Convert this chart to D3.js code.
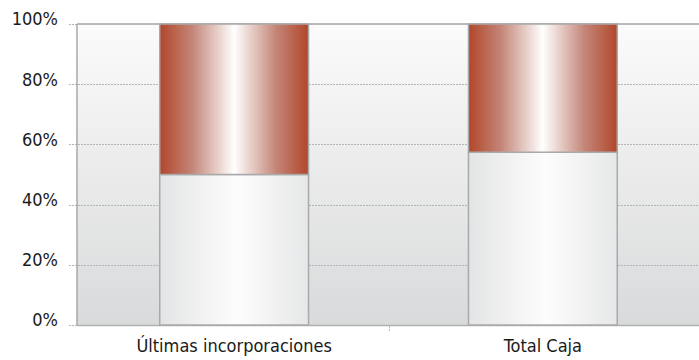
<!DOCTYPE html>
<html>
<head>
<meta charset="utf-8">
<script src="https://cdn.jsdelivr.net/npm/d3@7/dist/d3.min.js"></script>
<style>
  html, body { margin: 0; padding: 0; background: #ffffff; }
  svg { display: block; }
  text { font-family: "Liberation Sans Narrow", "DejaVu Sans Condensed", "Roboto Condensed", sans-serif; fill: #1a1a1a; }
</style>
</head>
<body>
<svg id="chart" width="699" height="360"></svg>
<script>
// Share of each group (percent): base segment and remaining segment
const categories = ["Últimas incorporaciones", "Total Caja"];
const baseShare = [50, 57.4];
const restShare = [50, 42.6];
const yTicks = [0, 20, 40, 60, 80, 100];
const yTickLabels = ["0%", "20%", "40%", "60%", "80%", "100%"];

const W = 699, H = 360;
const margin = { top: 24, right: 0, bottom: 35, left: 77 };

const svg = d3.select("#chart");
const defs = svg.append("defs");

// Plot background: light at top fading to grey at the bottom
const bg = defs.append("linearGradient").attr("id", "bgGrad")
  .attr("x1", 0).attr("y1", 0).attr("x2", 0).attr("y2", 1);
bg.append("stop").attr("offset", "0%").attr("stop-color", "#fbfbfb");
bg.append("stop").attr("offset", "100%").attr("stop-color", "#d9dadb");

// Silver bar: horizontal sheen, bright in the middle
const silver = defs.append("linearGradient").attr("id", "silverGrad")
  .attr("x1", 0).attr("y1", 0).attr("x2", 1).attr("y2", 0);
silver.append("stop").attr("offset", "0%").attr("stop-color", "#e3e4e5");
silver.append("stop").attr("offset", "52%").attr("stop-color", "#fdfdfd");
silver.append("stop").attr("offset", "100%").attr("stop-color", "#e6e7e8");

// Copper bar: rust at the edges, white highlight in the middle
const copper = defs.append("linearGradient").attr("id", "copperGrad")
  .attr("x1", 0).attr("y1", 0).attr("x2", 1).attr("y2", 0);
copper.append("stop").attr("offset", "0%").attr("stop-color", "#b1462a");
copper.append("stop").attr("offset", "22%").attr("stop-color", "#c48678");
copper.append("stop").attr("offset", "50%").attr("stop-color", "#ffffff");
copper.append("stop").attr("offset", "78%").attr("stop-color", "#c48678");
copper.append("stop").attr("offset", "100%").attr("stop-color", "#b1462a");

const x = d3.scaleBand()
  .domain(categories)
  .range([margin.left, 700])
  .paddingInner(0.518)
  .paddingOuter(0.268);

const y = d3.scaleLinear()
  .domain([0, 100])
  .range([H - margin.bottom, margin.top]);

// Background panel
svg.append("rect")
  .attr("x", margin.left).attr("y", y(100))
  .attr("width", W - margin.right - margin.left)
  .attr("height", y(0) - y(100))
  .attr("fill", "url(#bgGrad)");

// Gridlines (dotted), extending slightly left of the plot as ticks
const grid = svg.append("g");
grid.selectAll("line").data(yTicks.filter(d => d > 0 && d < 100)).join("line")
  .attr("x1", margin.left - 8).attr("x2", W - margin.right)
  .attr("y1", d => Math.round(y(d)) + 0.5).attr("y2", d => Math.round(y(d)) + 0.5)
  .attr("stroke", "#b4b4b4").attr("stroke-width", 1)
  .attr("stroke-dasharray", "2,1");
// tick stubs at 0 and 100
grid.selectAll("line.stub").data([0, 100]).join("line").attr("class", "stub")
  .attr("x1", margin.left - 8).attr("x2", margin.left)
  .attr("y1", d => Math.round(y(d)) + 0.5).attr("y2", d => Math.round(y(d)) + 0.5)
  .attr("stroke", "#b4b4b4").attr("stroke-width", 1)
  .attr("stroke-dasharray", "2,1");

// Plot frame: top, left and bottom edges
svg.append("line")
  .attr("x1", margin.left).attr("x2", W).attr("y1", y(100)).attr("y2", y(100))
  .attr("stroke", "#a4a4a4").attr("stroke-width", 1.5);
svg.append("line")
  .attr("x1", margin.left).attr("x2", margin.left).attr("y1", y(100)).attr("y2", y(0))
  .attr("stroke", "#a8a8a8").attr("stroke-width", 1.5);
svg.append("line")
  .attr("x1", margin.left).attr("x2", W).attr("y1", y(0) + 0.5).attr("y2", y(0) + 0.5)
  .attr("stroke", "#b0b0b0").attr("stroke-width", 1.5);

// Category separator tick below the axis
const bandEdges = categories.slice(1).map(c => x(c) - x.step() * x.paddingInner() / 2);
svg.selectAll("line.sep").data(bandEdges).join("line").attr("class", "sep")
  .attr("x1", d => Math.round(d) + 0.5).attr("x2", d => Math.round(d) + 0.5)
  .attr("y1", y(0) + 1).attr("y2", y(0) + 7)
  .attr("stroke", "#bbbbbb").attr("stroke-width", 1)
  .attr("stroke-dasharray", "2,1");

// Bars
const bars = svg.append("g");
categories.forEach((c, i) => {
  bars.append("rect")
    .attr("x", x(c)).attr("width", x.bandwidth())
    .attr("y", y(baseShare[i])).attr("height", y(0) - y(baseShare[i]))
    .attr("fill", "url(#silverGrad)")
    .attr("stroke", "#a9a9a9").attr("stroke-width", 1.5);
  bars.append("rect")
    .attr("x", x(c)).attr("width", x.bandwidth())
    .attr("y", y(baseShare[i] + restShare[i]))
    .attr("height", y(baseShare[i]) - y(baseShare[i] + restShare[i]))
    .attr("fill", "url(#copperGrad)")
    .attr("stroke", "#a9a9a9").attr("stroke-width", 1.5);
});

// Y axis labels
const yAxis = d3.axisLeft(y).tickValues(yTicks)
  .tickFormat((d, i) => yTickLabels[i]).tickSize(0).tickPadding(19);
const yg = svg.append("g").attr("transform", `translate(${margin.left},0)`).call(yAxis);
yg.select(".domain").remove();
yg.selectAll("text").attr("font-size", 18).attr("dy", "0.05em")
  .style("font-family", "'Liberation Sans Narrow', 'DejaVu Sans Condensed', sans-serif")
  .attr("fill", "#1a1a1a");

// X axis labels
const xAxis = d3.axisBottom(x).tickSize(0).tickPadding(14);
const xg = svg.append("g").attr("transform", `translate(0,${y(0)})`).call(xAxis);
xg.select(".domain").remove();
xg.selectAll("text").attr("font-size", 18)
  .style("font-family", "'Liberation Sans Narrow', 'DejaVu Sans Condensed', sans-serif")
  .attr("fill", "#1a1a1a");
</script>
</body>
</html>
